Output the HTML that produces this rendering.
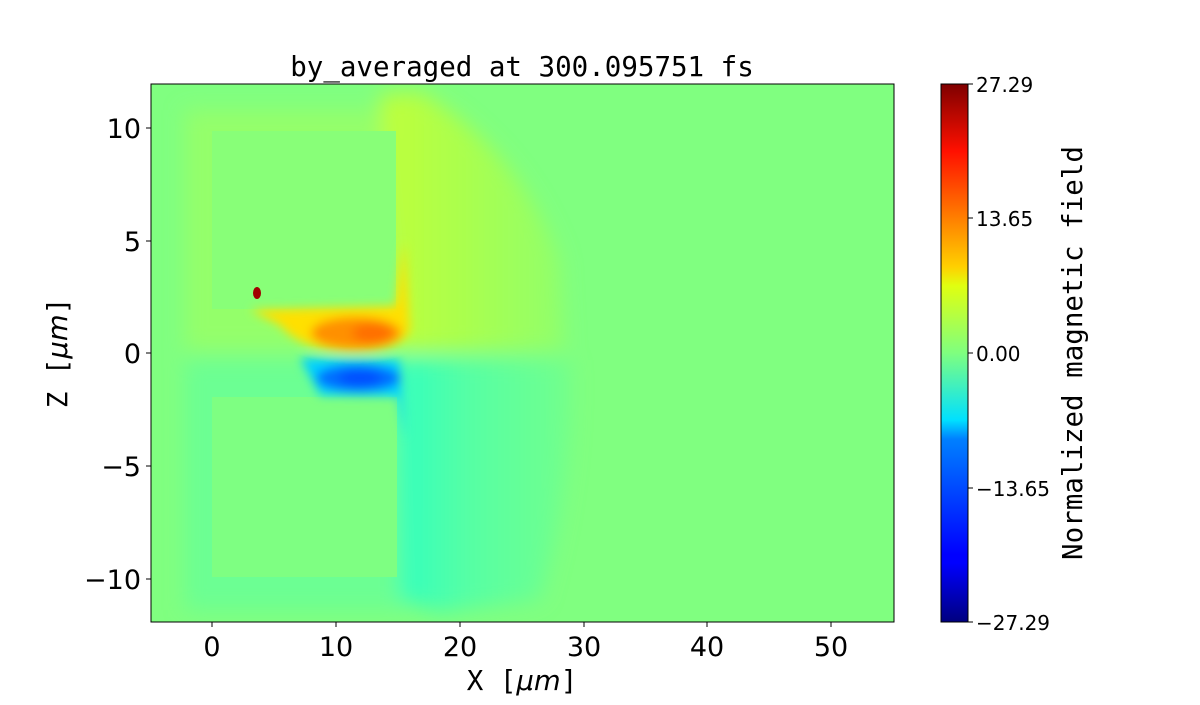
<!DOCTYPE html>
<html><head><meta charset="utf-8"><style>
body{margin:0;background:#fff;width:1200px;height:700px;overflow:hidden}
</style></head><body>
<svg width="1200" height="700" xmlns="http://www.w3.org/2000/svg">
<defs>
<linearGradient id="jet" x1="0" y1="1" x2="0" y2="0">
<stop offset="0" stop-color="#00007f"/><stop offset="0.11" stop-color="#0000ff"/>
<stop offset="0.125" stop-color="#0000ff"/><stop offset="0.34" stop-color="#0080ff"/>
<stop offset="0.375" stop-color="#00e0ff"/><stop offset="0.5" stop-color="#7fff7f"/>
<stop offset="0.625" stop-color="#e0ff10"/><stop offset="0.66" stop-color="#ffd000"/>
<stop offset="0.875" stop-color="#ff1000"/><stop offset="1" stop-color="#7f0000"/>
</linearGradient>
<linearGradient id="yel" x1="0" y1="0" x2="1" y2="0">
<stop offset="0" stop-color="#c0ff38"/><stop offset="0.5" stop-color="#a8ff50"/><stop offset="1" stop-color="#90ff6c"/>
</linearGradient>
<linearGradient id="cy" x1="0" y1="0" x2="1" y2="0">
<stop offset="0" stop-color="#30ffc0"/><stop offset="0.4" stop-color="#55ffa5"/><stop offset="1" stop-color="#72ff8c"/>
</linearGradient>
<filter id="b8" x="-50%" y="-50%" width="200%" height="200%"><feGaussianBlur stdDeviation="10"/></filter>
<filter id="b4" x="-50%" y="-50%" width="200%" height="200%"><feGaussianBlur stdDeviation="5"/></filter>
<clipPath id="pc"><rect x="151" y="84" width="743" height="538"/></clipPath>
</defs>
<g clip-path="url(#pc)">
<rect x="151" y="84" width="743" height="538" fill="#80ff80"/>
<g filter="url(#b8)">
<rect x="185" y="110" width="220" height="240" fill="#94ff6a"/>
<rect x="185" y="360" width="220" height="250" fill="#6cff93"/>
<path d="M380 95 L420 92 Q520 150 560 260 L565 350 L396 350 Z" fill="url(#yel)"/>
<path d="M396 358 L570 360 Q575 480 540 600 L440 612 L400 600 Z" fill="url(#cy)"/>
</g>
<rect x="212" y="131" width="184" height="178" fill="#88ff78"/>
<rect x="212" y="397" width="185" height="180" fill="#7eff82"/>
<g filter="url(#b4)">
<path d="M250 310 L396 306 L404 240 L410 330 Q400 352 350 352 Q300 350 280 325 Z" fill="#ffe000"/>
<ellipse cx="356" cy="333" rx="45" ry="16" fill="#ff9000"/>
<ellipse cx="372" cy="333" rx="20" ry="10" fill="#ff7000"/>
<path d="M300 358 L400 360 L405 440 L398 396 L320 395 Z" fill="#00d0ff"/>
<ellipse cx="358" cy="378" rx="42" ry="14" fill="#0070ff"/>
<ellipse cx="360" cy="378" rx="22" ry="8" fill="#0050ff"/>
</g>
<ellipse cx="257" cy="293" rx="4" ry="6" fill="#a00000"/>
</g>
<rect x="151" y="84" width="743" height="538" fill="none" stroke="#000" stroke-width="1"/>
<g stroke="#000" stroke-width="1">
<line x1="212" y1="622" x2="212" y2="627"/><line x1="336" y1="622" x2="336" y2="627"/>
<line x1="460" y1="622" x2="460" y2="627"/><line x1="584" y1="622" x2="584" y2="627"/>
<line x1="707" y1="622" x2="707" y2="627"/><line x1="831" y1="622" x2="831" y2="627"/>
<line x1="146" y1="128" x2="151" y2="128"/><line x1="146" y1="241" x2="151" y2="241"/>
<line x1="146" y1="353" x2="151" y2="353"/><line x1="146" y1="466" x2="151" y2="466"/>
<line x1="146" y1="579" x2="151" y2="579"/>
</g>
<g font-family="DejaVu Sans, sans-serif" font-size="27" fill="#000">
<g text-anchor="middle">
<text x="212" y="656">0</text><text x="336" y="656">10</text><text x="460" y="656">20</text>
<text x="584" y="656">30</text><text x="707" y="656">40</text><text x="831" y="656">50</text>
</g>
<g text-anchor="end">
<text x="141" y="138">10</text><text x="141" y="251">5</text><text x="141" y="363">0</text>
<text x="141" y="476">−5</text><text x="141" y="589">−10</text>
</g>
</g>
<g font-family="DejaVu Sans Mono, monospace" font-size="27.5" fill="#000">
<text x="522" y="76" text-anchor="middle">by_averaged at 300.095751 fs</text>
<text x="522" y="690" text-anchor="middle">X [<tspan font-style="italic" font-family="DejaVu Sans">μm</tspan>]</text>
<text transform="translate(67,353) rotate(-90)" text-anchor="middle">Z [<tspan font-style="italic" font-family="DejaVu Sans">μm</tspan>]</text>
<text transform="translate(1082,353) rotate(-90)" text-anchor="middle">Normalized magnetic field</text>
</g>
<rect x="941" y="84" width="27" height="538" fill="url(#jet)" stroke="#000" stroke-width="1"/>
<g stroke="#000"><line x1="968" y1="84" x2="973" y2="84"/><line x1="968" y1="218" x2="973" y2="218"/>
<line x1="968" y1="353" x2="973" y2="353"/><line x1="968" y1="488" x2="973" y2="488"/><line x1="968" y1="622" x2="973" y2="622"/></g>
<g font-family="DejaVu Sans, sans-serif" font-size="20" fill="#000">
<text x="976" y="92">27.29</text><text x="976" y="226">13.65</text><text x="976" y="361">0.00</text>
<text x="976" y="496">−13.65</text><text x="976" y="630">−27.29</text>
</g>
</svg>
</body></html>
